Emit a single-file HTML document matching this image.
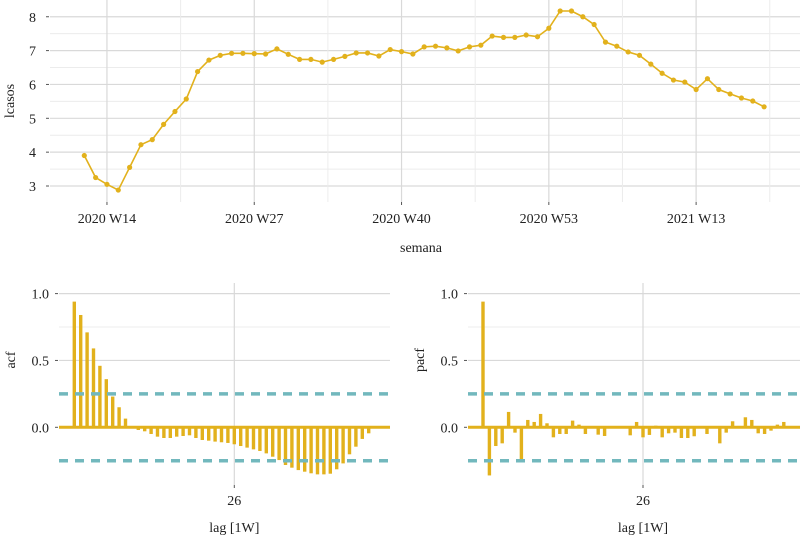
<!DOCTYPE html>
<html><head><meta charset="utf-8">
<style>
html,body{margin:0;padding:0;background:#fff;}
svg{display:block;font-family:"Liberation Serif",serif;}
</style></head>
<body>
<svg id="chart" width="800" height="538" viewBox="0 0 800 538" xmlns="http://www.w3.org/2000/svg"></svg>
<script>
const lcasos = [3.9,3.25,3.05,2.88,3.55,4.22,4.37,4.82,5.2,5.57,6.38,6.72,6.86,6.92,6.92,6.91,6.9,7.05,6.89,6.74,6.74,6.66,6.74,6.83,6.93,6.93,6.84,7.03,6.97,
6.9,7.11,7.13,7.08,6.99,7.11,7.16,7.43,7.39,7.39,7.46,7.41,7.66,8.17,8.17,8.0,7.77,7.25,7.13,6.96,6.86,6.6,6.33,6.13,6.07,5.85,6.17,5.85,5.72,5.6,5.51,5.34];
const weekTickLabels = ["2020 W14","2020 W27","2020 W40","2020 W53","2021 W13"];
const weekTickIndex = [2,15,28,41,54];
const yTicksTop = [3,4,5,6,7,8];
const acfValues = [0.94,0.84,0.71,0.59,0.46,0.36,0.23,0.15,0.065,0.005,
-0.02,-0.03,-0.05,-0.07,-0.08,-0.08,-0.07,-0.065,-0.06,-0.08,-0.095,-0.1,-0.107,-0.112,-0.117,-0.127,-0.14,-0.152,-0.165,-0.177,-0.195,-0.22,-0.245,-0.282,-0.302,-0.32,-0.332,-0.344,-0.352,-0.352,-0.347,-0.314,-0.27,-0.202,-0.145,-0.087,-0.045,-0.005];
const pacfValues = [0.94,-0.36,-0.14,-0.12,0.115,-0.04,-0.245,0.055,0.04,0.10,0.03,-0.075,-0.05,-0.05,0.05,0.02,-0.05,0.0,-0.055,-0.065,0,0,0,-0.06,
0.04,-0.075,-0.057,0.012,-0.075,-0.045,-0.04,-0.08,-0.08,-0.067,0,-0.05,0,-0.12,-0.04,0.045,0.01,0.075,0.055,-0.045,-0.05,-0.025,0.02,0.04];
const corTicks = [0,0.5,1.0];
const ciBound = 0.25;

const NS="http://www.w3.org/2000/svg";
const svg=document.getElementById('chart');
const GOLD="#e2b11c", TEAL="#72b8bd", GRID="#d9d9d9", MINOR="#ececec";
const FS=14;
function el(tag,attrs,parent){const e=document.createElementNS(NS,tag);for(const k in attrs)e.setAttribute(k,attrs[k]);(parent||svg).appendChild(e);return e;}

// ---- top chart
const tL=50,tR=800,tT=0,tB=202;
const xW=i=>84.3+i*11.33;
const yT=v=>186-(v-3)*33.85;
const gTop=el('g',{});


for(let v=3;v<=8.01;v+=0.5){
  const major=Math.abs(v-Math.round(v))<0.01;
  const l=el('line',{x1:tL,x2:tR,y1:yT(v),y2:yT(v),stroke:major?GRID:MINOR,'stroke-width':major?1.2:1},gTop);
  
  
}
weekTickIndex.forEach((wi,k)=>{
  const x=xW(wi);
  const g=el('line',{x1:x,x2:x,y1:tT,y2:tB,stroke:GRID,'stroke-width':1.2},gTop);
  
  
  const xm=xW(wi+6.5);
  const m=el('line',{x1:xm,x2:xm,y1:tT,y2:tB,stroke:MINOR,'stroke-width':1},gTop);
  
  
  const tk=el('line',{x1:x,x2:x,y1:tB,y2:tB+3,stroke:"#555"},gTop);
  
  
  const t=el('text',{x:x,y:223,'text-anchor':'middle','font-size':FS,fill:'#222'},gTop);
  t.textContent=weekTickLabels[k];
  
  
});
yTicksTop.forEach(v=>{
  const tk=el('line',{x1:46,x2:49,y1:yT(v),y2:yT(v),stroke:"#555"},gTop);
  
  
  const t=el('text',{x:36,y:yT(v)+5,'text-anchor':'end','font-size':FS,fill:'#222'},gTop);
  t.textContent=v;
  
  
});
const pl=el('polyline',{points:lcasos.map((v,i)=>xW(i)+','+yT(v)).join(' '),fill:'none',stroke:GOLD,'stroke-width':1.6},gTop);


lcasos.forEach((v,i)=>{
  const c=el('circle',{cx:xW(i),cy:yT(v),r:2.6,fill:GOLD},gTop);
  
  
});
const yt=el('text',{x:0,y:0,transform:'translate(14,101) rotate(-90)','text-anchor':'middle','font-size':FS,fill:'#222'},gTop);
yt.textContent='lcasos';


const xt=el('text',{x:421,y:252,'text-anchor':'middle','font-size':FS,fill:'#222'},gTop);
xt.textContent='semana';



// ---- correlogram panels
function corPanel(vals,left,right,lag1x,ylabel,name){
  const g=el('g',{});
  
  
  const xL=k=>lag1x+(k-1)*6.4;
  const yC=v=>427.3-v*133.7;
  const top=283,bot=485;
  [0.75].forEach(v=>{
    const m=el('line',{x1:left,x2:right,y1:yC(v),y2:yC(v),stroke:MINOR},g);
    
    
  });
  corTicks.forEach(v=>{
    const l=el('line',{x1:left,x2:right,y1:yC(v),y2:yC(v),stroke:GRID,'stroke-width':1.2},g);
    
    
    const tk=el('line',{x1:left-4,x2:left-1,y1:yC(v),y2:yC(v),stroke:'#555'},g);
    
    
    const t=el('text',{x:left-10,y:yC(v)+5,'text-anchor':'end','font-size':FS,fill:'#222'},g);
    t.textContent=v.toFixed(1);
    
    
  });
  const x26=xL(26);
  const vg=el('line',{x1:x26,x2:x26,y1:top,y2:bot,stroke:GRID,'stroke-width':1.2},g);
  
  
  const vt=el('line',{x1:x26,x2:x26,y1:bot,y2:bot+3,stroke:'#555'},g);
  
  
  const lt=el('text',{x:x26,y:505,'text-anchor':'middle','font-size':FS,fill:'#222'},g);
  lt.textContent='26';
  
  
  vals.forEach((v,i)=>{
    const x=xL(i+1);
    const y0=yC(0),y1=yC(v);
    const r=el('rect',{x:x-1.7,y:Math.min(y0,y1),width:3.4,height:Math.max(0.5,Math.abs(y1-y0)),fill:GOLD},g);
    
    
  });
  const zl=el('line',{x1:left,x2:right,y1:yC(0),y2:yC(0),stroke:GOLD,'stroke-width':3},g);
  
  
  [ciBound,-ciBound].forEach(v=>{
    const d=el('line',{x1:left,x2:right,y1:yC(v),y2:yC(v),stroke:TEAL,'stroke-width':3.5,'stroke-dasharray':'9,7'},g);
    
    
  });
  const yt=el('text',{x:0,y:0,transform:'translate('+(left-44)+',360) rotate(-90)','text-anchor':'middle','font-size':FS,fill:'#222'},g);
  yt.textContent=ylabel;
  
  
  const xt=el('text',{x:x26,y:532,'text-anchor':'middle','font-size':FS,fill:'#222'},g);
  xt.textContent='lag [1W]';
  
  
}
corPanel(acfValues,59,390,74.3,'acf','acf');
corPanel(pacfValues,468,800,483,'pacf','pacf');
</script>
</body></html>
